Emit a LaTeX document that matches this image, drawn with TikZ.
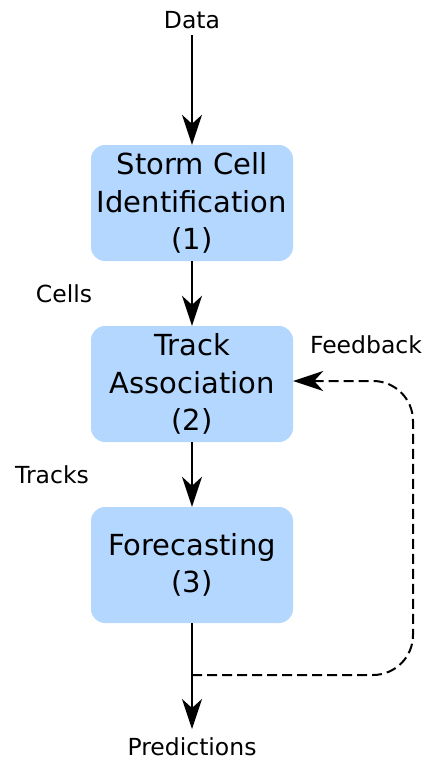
\documentclass[tikz,border=0pt]{standalone}
\usepackage{fontspec}
\setmainfont{DejaVu Sans}
\usetikzlibrary{arrows.meta}
\definecolor{stagefill}{RGB}{179,215,255}
\tikzset{
  stagebox/.style={draw=none, fill=stagefill, rounded corners=14pt,
    minimum width=202pt, minimum height=116pt, align=center,
    inner sep=0pt, font=\fontsize{29}{37.5}\selectfont},
  lbl/.style={inner sep=0pt, font=\fontsize{23.5}{28}\selectfont},
  flow/.style={line width=2pt, -{Stealth[length=30pt, width=20pt, inset=9pt]}},
  feedback/.style={flow, dashed, dash pattern=on 10pt off 5pt, rounded corners=40pt}
}
\begin{document}
\begin{tikzpicture}[x=1pt, y=-1pt]
  \useasboundingbox (0,0) rectangle (425,761);

  \node[lbl] (data) at (192,20) {Data};
  \node[stagebox] (sci) at (192,203) {Storm Cell\\Identification\\(1)};
  \node[stagebox] (ta) at (192,384) {Track\\Association\\(2)};
  \node[stagebox] (fc) at (192,565) {Forecasting\\(3)};
  \node[lbl] (pred) at (192,747) {Predictions};

  \node[lbl] (cells) at (64,294) {Cells};
  \node[lbl] (tracks) at (52,475) {Tracks};
  \node[lbl] (fbl) at (366,345) {Feedback};

  \coordinate (split) at (192,675);

  \draw[flow] (data.south |- 0,35) -- (sci.north);
  \draw[flow] (sci) -- (ta);
  \draw[flow] (ta) -- (fc);
  \draw[flow] (fc.south) -- (pred.north |- 0,729);
  \draw[feedback] (split) -- (413,675) -- (413,381) -- (ta.east |- 0,381);
\end{tikzpicture}
\end{document}
